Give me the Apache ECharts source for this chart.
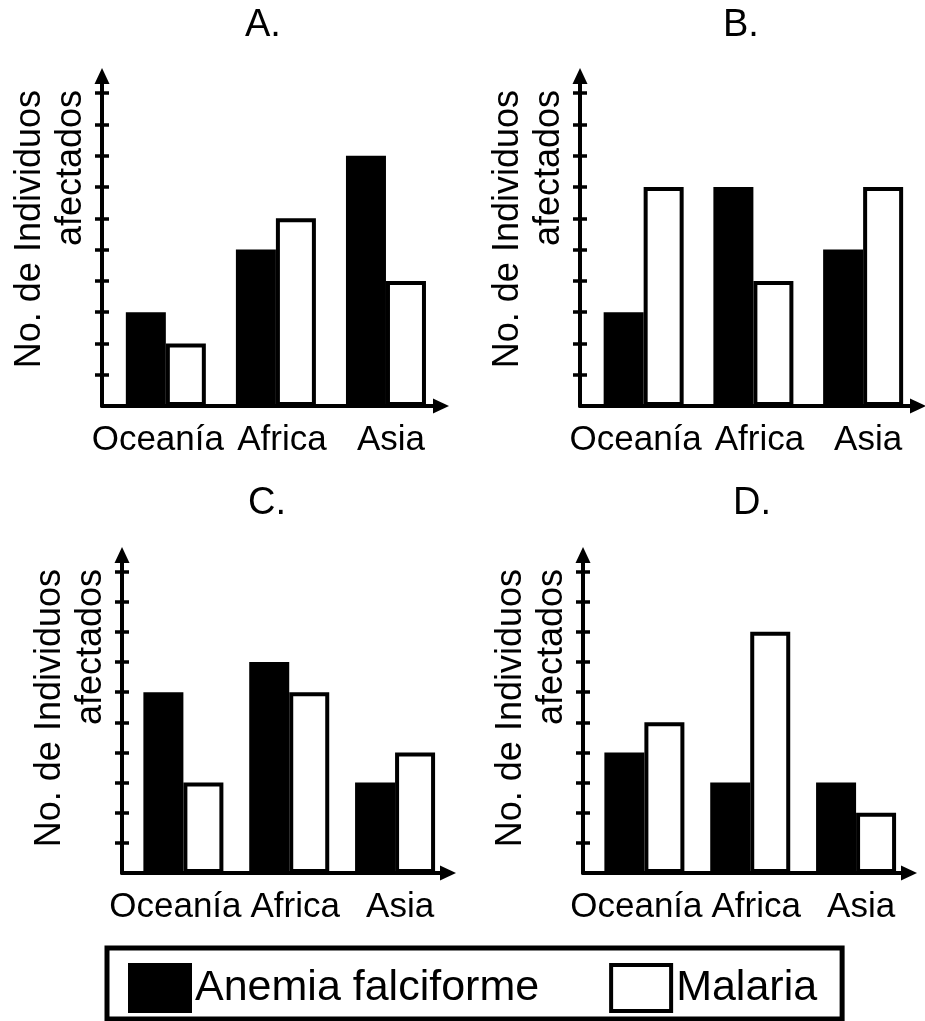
<!DOCTYPE html>
<html>
<head>
<meta charset="utf-8">
<script src="https://cdn.jsdelivr.net/npm/echarts@6.0.0/dist/echarts.min.js"></script>
<style>
  html, body { margin: 0; padding: 0; background: #fff; }
  #chart { width: 925px; height: 1021px; }
</style>
</head>
<body>
<div id="chart"></div>
<script>
// categorias del eje x, titulos y nombres de series
const categories = ['Oceanía', 'Africa', 'Asia']
const panelTitles = ['A.', 'B.', 'C.', 'D.']
const seriesNames = ['Anemia falciforme', 'Malaria']
const yName = ['No. de Individuos', 'afectados']

// valores (en marcas del eje y)
const anemiaA = [3, 5, 8]
const malariaA = [2, 6, 4]
const anemiaB = [3, 7, 5]
const malariaB = [7, 4, 7]
const anemiaC = [6, 7, 3]
const malariaC = [3, 6, 4]
const anemiaD = [4, 3, 3]
const malariaD = [5, 8, 2]

// marcas del eje y (sin numeros)
const yTicks = [1, 2, 3, 4, 5, 6, 7, 8, 9, 10]

const FONT = "'Liberation Sans', Arial, sans-serif"

const panels = [
  { title: panelTitles[0], anemia: anemiaA, malaria: malariaA,
    grid: { left: 102, top: 76, width: 339, height: 330 }, titleLeft: 245, titleTop: 7 },
  { title: panelTitles[1], anemia: anemiaB, malaria: malariaB,
    grid: { left: 580, top: 76, width: 338, height: 330 }, titleLeft: 723, titleTop: 7 },
  { title: panelTitles[2], anemia: anemiaC, malaria: malariaC,
    grid: { left: 122, top: 555, width: 326, height: 318 }, titleLeft: 248, titleTop: 485 },
  { title: panelTitles[3], anemia: anemiaD, malaria: malariaD,
    grid: { left: 583, top: 555, width: 326, height: 318 }, titleLeft: 733, titleTop: 485 }
]

const labelKeys = ['o', 'f', 's']
const axisLineStyle = { color: '#000', width: 4 }
const tickStyle = { color: '#000', width: 3.5 }

const grids = []
const titles = []
const xAxes = []
const yAxes = []
const series = []

panels.forEach(function(p, i) {
  grids.push(Object.assign({ containLabel: false }, p.grid))
  titles.push({
    text: p.title,
    left: p.titleLeft,
    top: p.titleTop,
    padding: 0,
    textStyle: { fontFamily: FONT, fontSize: 38, fontWeight: 'normal', color: '#000' }
  })
  xAxes.push({
    type: 'value',
    gridIndex: i,
    min: -0.58,
    max: 2.5,
    axisLine: {
      show: true,
      onZero: false,
      symbol: ['none', 'triangle'],
      symbolSize: [15, 16],
      lineStyle: axisLineStyle
    },
    axisTick: { show: false },
    splitLine: { show: false },
    axisLabel: {
      show: true,
      customValues: [0, 1, 2],
      margin: 17,
      color: '#000',
      fontFamily: FONT,
      fontSize: 35,
      formatter: function(v) {
        return '{' + labelKeys[v] + '|' + categories[v] + '}'
      },
      rich: {
        o: { fontFamily: FONT, fontSize: 35, color: '#000', padding: [0, 16, 0, 0] },
        f: { fontFamily: FONT, fontSize: 35, color: '#000', padding: [0, 0, 0, 12] },
        s: { fontFamily: FONT, fontSize: 35, color: '#000', padding: [0, 0, 0, 10] }
      }
    }
  })
  // eje y principal: linea, flecha, marcas hacia fuera y nombre
  yAxes.push({
    type: 'value',
    gridIndex: i,
    position: 'left',
    min: 0,
    max: 10.55,
    axisLine: {
      show: true,
      onZero: false,
      symbol: ['none', 'triangle'],
      symbolSize: [15, 16],
      lineStyle: axisLineStyle
    },
    axisTick: { show: true, customValues: yTicks, length: 7, lineStyle: tickStyle },
    axisLabel: { show: false },
    splitLine: { show: false },
    name: '{a|' + yName[0] + '}\n{b|' + yName[1] + '}',
    nameLocation: 'end',
    nameRotate: 90,
    nameGap: -14,
    nameMoveOverlap: false,
    nameTextStyle: {
      align: 'right',
      verticalAlign: 'bottom',
      padding: [0, 0, 10, 0],
      rich: {
        a: { fontFamily: FONT, fontSize: 36, lineHeight: 41, color: '#000' },
        b: { fontFamily: FONT, fontSize: 36, lineHeight: 41, color: '#000' }
      }
    }
  })
  // segundo eje y solo para que las marcas crucen la linea
  yAxes.push({
    type: 'value',
    gridIndex: i,
    position: 'left',
    min: 0,
    max: 10.55,
    axisLine: { show: false, onZero: false },
    axisTick: { show: true, inside: true, customValues: yTicks, length: 7, lineStyle: tickStyle },
    axisLabel: { show: false },
    splitLine: { show: false }
  })
  series.push({
    name: seriesNames[0],
    type: 'bar',
    xAxisIndex: i,
    yAxisIndex: i * 2,
    barWidth: 40,
    barGap: '0%',
    data: p.anemia.map(function(v, k) { return [k, v] }),
    itemStyle: { color: '#000', borderColor: '#000', borderWidth: 4 }
  })
  series.push({
    name: seriesNames[1],
    type: 'bar',
    xAxisIndex: i,
    yAxisIndex: i * 2,
    barWidth: 40,
    barGap: '0%',
    data: p.malaria.map(function(v, k) { return [k, v] }),
    itemStyle: { color: '#fff', borderColor: '#000', borderWidth: 4 }
  })
})

const chart = echarts.init(document.getElementById('chart'), null, { renderer: 'canvas' })
const option = {
  backgroundColor: '#fff',
  animation: false,
  textStyle: { fontFamily: FONT, color: '#000' },
  title: titles,
  grid: grids,
  xAxis: xAxes,
  yAxis: yAxes,
  legend: {
    left: 107,
    top: 948,
    orient: 'horizontal',
    selectedMode: false,
    icon: 'rect',
    itemWidth: 60,
    itemHeight: 46,
    itemGap: 70,
    borderColor: '#000',
    borderWidth: 5,
    padding: [15, 25, 6, 21],
    textStyle: {
      fontFamily: FONT,
      fontSize: 43,
      color: '#000'
    },
    data: [
      { name: seriesNames[0], itemStyle: { color: '#000', borderColor: '#000', borderWidth: 4 } },
      { name: seriesNames[1], itemStyle: { color: '#fff', borderColor: '#000', borderWidth: 4 } }
    ]
  },
  series: series
}
chart.setOption(option)
</script>
</body>
</html>
